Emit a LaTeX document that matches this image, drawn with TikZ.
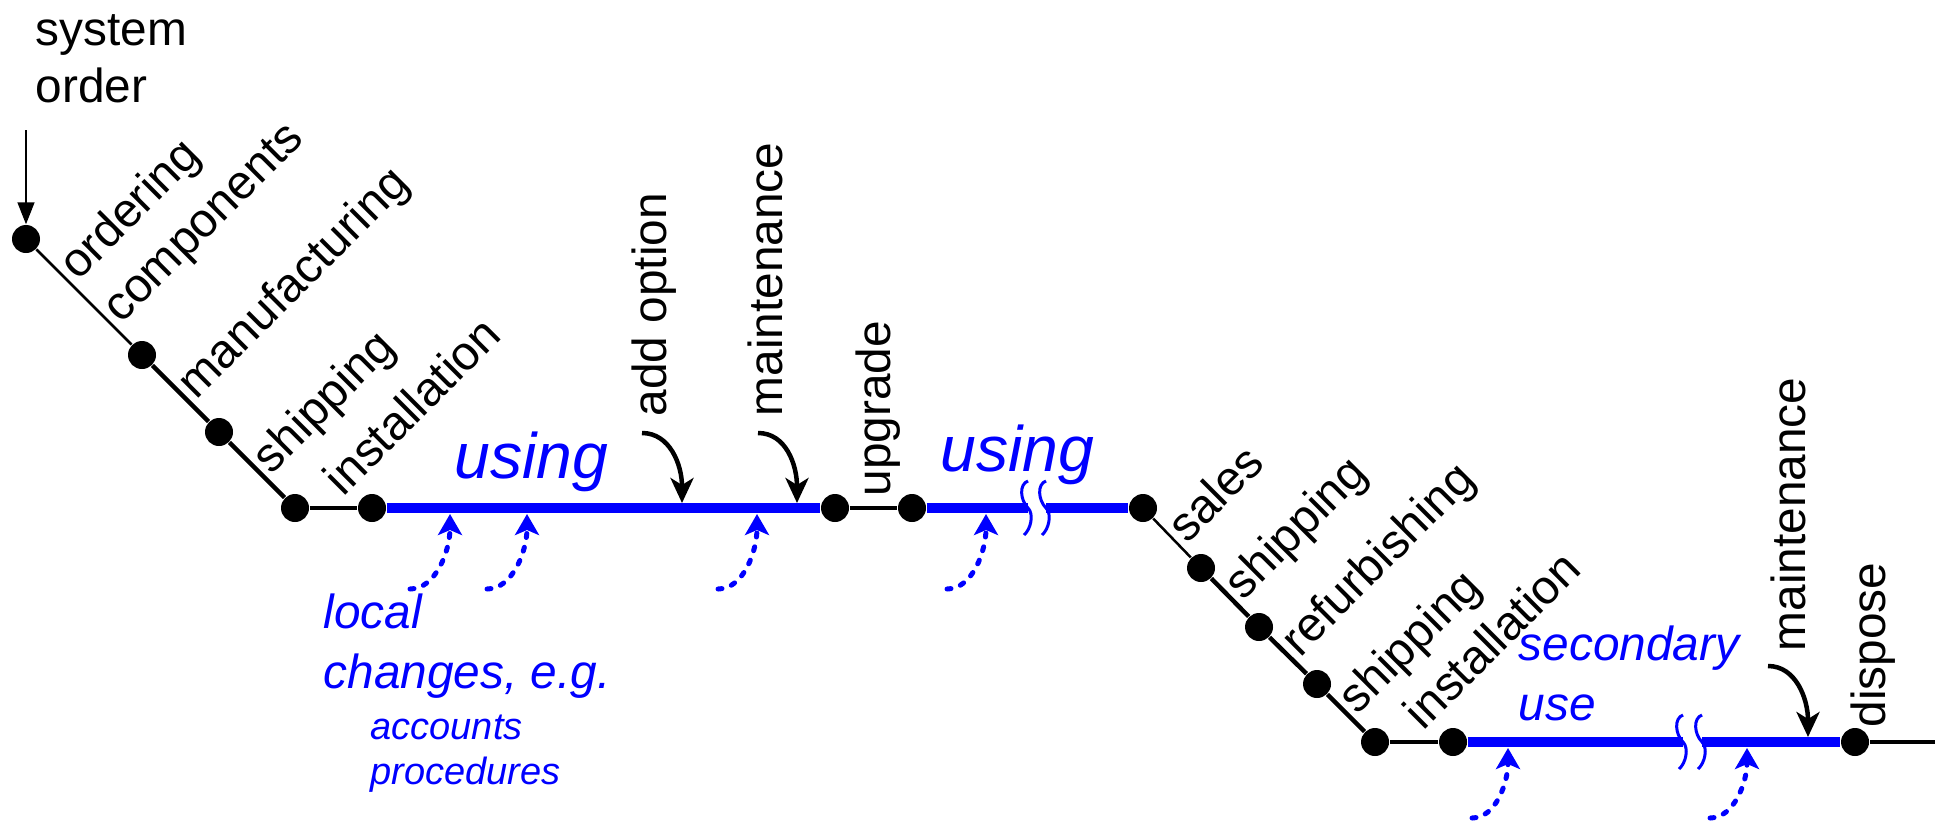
\documentclass[tikz,border=0pt]{standalone}
\usepackage{fontspec}
\setmainfont{Liberation Sans}
\usetikzlibrary{arrows.meta, calc}
\newcommand{\brudd}[1]{\draw[brk] ($(#1)+(0,-27)$) .. controls +(-9,3) and +(-8,-8) .. (#1) .. controls +(6,6) and +(7,-6) .. ($(#1)+(-4,27)$);}

\begin{document}
\begin{tikzpicture}[
        x=0.1mm, y=-0.1mm,
        punkt/.style = {circle, fill=black, inner sep=0pt, minimum size=2.8mm},
        tynd/.style = {line width=0.25mm},
        stage/.style = {line width=0.45mm},
        brug/.style = {blue, line width=1mm},
        brk/.style = {blue, line width=0.3mm},
        txt/.style = {font=\fontsize{13.6}{16.2}\selectfont, inner sep=0pt},
        diag/.style = {txt, rotate=45, anchor=base west, inner xsep=0.6mm},
        vert/.style = {txt, rotate=90, anchor=base west},
        blaa/.style = {blue, font=\fontsize{13.6}{17}\selectfont\itshape, inner sep=0pt, align=left, anchor=base west},
        pil/.style = {line width=0.45mm, -{Stealth[length=2.5mm, width=2.3mm, inset=0.7mm]}},
        lokal/.style = {blue, line width=0.5mm, line cap=round, dash pattern=on 0.4mm off 1mm,
                        -{Stealth[length=2.1mm, width=2.4mm, inset=0.5mm]}}
        ]
        \useasboundingbox (0,0) rectangle (1939,822);

        % first life
        \node[punkt] (d1) at (26,239) {};
        \node[punkt] (d2) at (142,355) {};
        \node[punkt] (d3) at (219,432) {};
        \node[punkt] (d4) at (295,508) {};
        \node[punkt] (d5) at (372,508) {};
        \node[punkt] (d6) at (835,508) {};
        \node[punkt] (d7) at (912,508) {};
        \node[punkt] (d8) at (1143,508) {};
        % second life
        \node[punkt] (d9) at (1201,568) {};
        \node[punkt] (d10) at (1259,627) {};
        \node[punkt] (d11) at (1317,684) {};
        \node[punkt] (d12) at (1375,742) {};
        \node[punkt] (d13) at (1453,742) {};
        \node[punkt] (d14) at (1855,742) {};
        \coordinate (slut) at (1935,742);
        \coordinate (b1) at (1028,508);
        \coordinate (b2) at (1046,508);
        \coordinate (b3) at (1683,742);
        \coordinate (b4) at (1702,742);

        \node[txt, align=left, anchor=base west] (order) at (35,102) {system\\order};
        \coordinate (order-s) at (26,130);

        \node[diag] (l-ord) at ($(d1)!.41!(d2)$) {ordering};
        \node[diag] (l-comp) at ($(d1)!.78!(d2)$) {components};
        \node[diag] (l-manu) at ($(d2)!.65!(d3)$) {manufacturing};
        \node[diag] (l-ship) at ($(d3)!.63!(d4)$) {shipping};
        \node[diag] (l-inst) at ($(d4)+(44,-6)$) {installation};
        \node[diag] (l-sales) at ($(d8)!.68!(d9)$) {sales};
        \node[diag] (l-ship2) at ($(d9)!.65!(d10)$) {shipping};
        \node[diag] (l-refurb) at ($(d10)!.63!(d11)$) {refurbishing};
        \node[diag] (l-ship3) at ($(d11)!.62!(d12)$) {shipping};
        \node[diag] (l-inst2) at ($(d12)+(44,-6)$) {installation};

        \node[vert] (l-opt) at (666,417) {add option};
        \node[vert] (l-mnt) at (782,417) {maintenance};
        \node[vert] (l-upg) at (890,497) {upgrade};
        \node[vert] (l-mnt2) at (1805,652) {maintenance};
        \node[vert] (l-disp) at (1885,728) {dispose};

        \node[blaa, font=\fontsize{18.3}{20}\selectfont\itshape] (using1) at (454,478) {using};
        \node[blaa, font=\fontsize{18.3}{20}\selectfont\itshape] (using2) at (940,471) {using};
        \node[blaa] (local) at (323,688) {local\\changes, e.g.};
        \node[blaa, font=\fontsize{10.8}{12.8}\selectfont\itshape] (eks) at (370,784) {accounts\\procedures};
        \node[blaa] (second) at (1518,720) {secondary\\use};

        \coordinate (opt-s) at (642,433);   \coordinate (opt-e) at (682,503);
        \coordinate (mnt-s) at (758,433);   \coordinate (mnt-e) at (797,503);
        \coordinate (mnt2-s) at (1768,666); \coordinate (mnt2-e) at (1808,737);
        \coordinate (c1-s) at (410,589);    \coordinate (c1-e) at (450,514);
        \coordinate (c2-s) at (487,589);    \coordinate (c2-e) at (527,514);
        \coordinate (c3-s) at (718,589);    \coordinate (c3-e) at (757,514);
        \coordinate (c4-s) at (947,589);    \coordinate (c4-e) at (986,514);
        \coordinate (c5-s) at (1472,818);   \coordinate (c5-e) at (1508,748);
        \coordinate (c6-s) at (1710,818);   \coordinate (c6-e) at (1747,748);

        \draw[tynd] (d1) edge (d2)
        (d8) edge (d9);
        \draw[stage] (d2) edge (d3)
        (d3) edge (d4)
        (d4) edge (d5)
        (d6) edge (d7)
        (d9) edge (d10)
        (d10) edge (d11)
        (d11) edge (d12)
        (d12) edge (d13)
        (d14) edge (slut);
        \draw[brug] (d5) edge (d6)
        (d7) edge (b1)
        (b2) edge (d8)
        (d13) edge (b3)
        (b4) edge (d14);
        \brudd{b1} \brudd{b2} \brudd{b3} \brudd{b4}

        \draw[line width=0.15mm, -{Triangle[length=2.2mm, width=1.7mm]}] (order-s) -- (d1);
        \draw[pil] (opt-s) .. controls +(28,0) and +(0,-38) .. (opt-e);
        \draw[pil] (mnt-s) .. controls +(28,0) and +(0,-38) .. (mnt-e);
        \draw[pil] (mnt2-s) .. controls +(28,0) and +(0,-38) .. (mnt2-e);
        \draw[lokal] (c1-s) .. controls +(26,0) and +(0,36) .. (c1-e);
        \draw[lokal] (c2-s) .. controls +(26,0) and +(0,36) .. (c2-e);
        \draw[lokal] (c3-s) .. controls +(26,0) and +(0,36) .. (c3-e);
        \draw[lokal] (c4-s) .. controls +(26,0) and +(0,36) .. (c4-e);
        \draw[lokal] (c5-s) .. controls +(24,0) and +(0,34) .. (c5-e);
        \draw[lokal] (c6-s) .. controls +(24,0) and +(0,34) .. (c6-e);
      \end{tikzpicture}
\end{document}
